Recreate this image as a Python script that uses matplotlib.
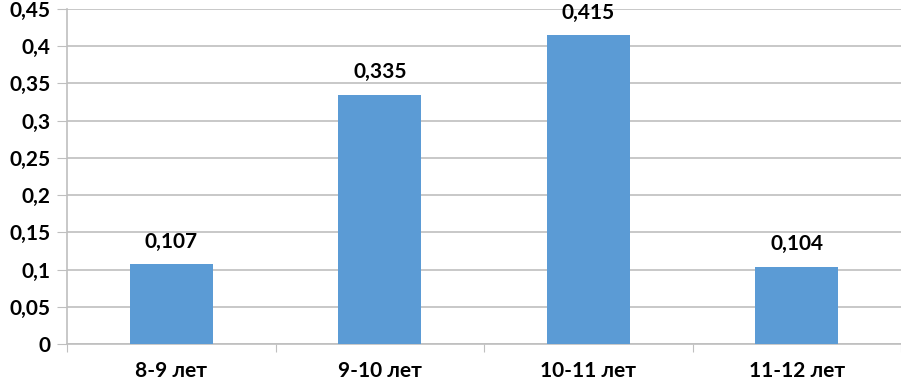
import numpy as np
import matplotlib.pyplot as plt
from matplotlib.ticker import FuncFormatter

categories = ['8-9 лет', '9-10 лет', '10-11 лет', '11-12 лет']
values = [0.107, 0.335, 0.415, 0.104]
yticks = [0, 0.05, 0.1, 0.15, 0.2, 0.25, 0.3, 0.35, 0.4, 0.45]

plt.rcParams['font.family'] = ['Lato', 'DejaVu Sans']
FS = 15

fig = plt.figure(figsize=(9.01, 3.84), dpi=100)
ax = fig.add_axes([67 / 901, 1 - 344 / 384, 1 - 67 / 901, (344 - 9) / 384])

x = np.arange(len(categories))
ax.bar(x, values, width=0.4, color='#5B9BD5', zorder=3)

for xi, v in zip(x, values):
    ax.annotate(f'{v:g}'.replace('.', ','), (xi, v), xytext=(0, 9),
                textcoords='offset points', ha='center', va='bottom',
                fontsize=FS, fontweight='bold', color='#000000')

ax.set_xlim(-0.5, len(categories) - 0.5)
ax.set_ylim(0, 0.45)
ax.set_yticks(yticks)
ax.yaxis.set_major_formatter(FuncFormatter(lambda v, p: f'{v:g}'.replace('.', ',')))
ax.grid(axis='y', color='#BFBFBF', linewidth=1.2, zorder=0)

# category labels centred, ticks on the boundaries
ax.set_xticks(np.arange(len(categories) + 1) - 0.5)
ax.set_xticklabels([])
ax.set_xticks(x, minor=True)
ax.set_xticklabels(categories, minor=True)
ax.tick_params(axis='x', which='minor', length=0, pad=12,
               labelsize=FS, labelcolor='#000000')
ax.tick_params(axis='x', which='major', length=6, color='#BFBFBF')
ax.tick_params(axis='y', length=7, color='#BFBFBF', pad=5,
               labelsize=FS, labelcolor='#000000')
for lab in ax.get_xticklabels(minor=True) + ax.get_yticklabels():
    lab.set_fontweight('bold')

for s in ['top', 'right']:
    ax.spines[s].set_visible(False)
ax.spines['left'].set_color('#BFBFBF')
ax.spines['bottom'].set_color('#BFBFBF')
ax.spines['left'].set_linewidth(1.2)
ax.spines['bottom'].set_linewidth(1.2)

fig.savefig('out.png', dpi=100)
